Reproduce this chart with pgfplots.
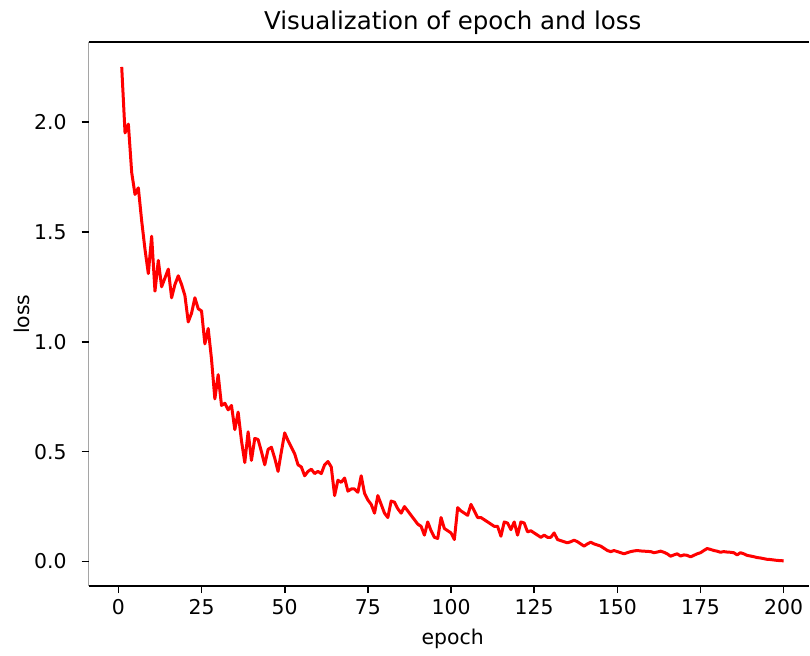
\documentclass[border=0pt]{standalone}
\usepackage{fontspec}
\setmainfont{DejaVu Sans}
\usepackage{pgfplots}
\pgfplotsset{compat=1.18}

\begin{document}
\begin{tikzpicture}
% the reference is cut off just before the right spine
\path (0,0) rectangle (405pt,326.5pt);
\begin{axis}[
    name=ax,
    at={(44.35pt,33.1pt)}, anchor=south west,
    scale only axis, width=360.65pt, height=272.25pt,
    xmin=-8.95, xmax=207.68,
    ymin=-0.1125, ymax=2.3625,
    xtick={0,25,...,200},
    ytick={0,0.5,...,2.0},
    yticklabel style={/pgf/number format/fixed, /pgf/number format/fixed zerofill, /pgf/number format/precision=1},
    /pgf/number format/assume math mode=true,
    tick align=outside,
    xtick pos=bottom, ytick pos=left,
    major tick length=3.5pt,
    tick style={line width=0.8pt, black},
    separate axis lines,
    axis line style={line width=0.8pt},
    y axis line style={draw=none},
    tick label style={font=\fontsize{10.2}{12}\selectfont},
    xticklabel style={anchor=base, yshift=-10.6pt},
    yticklabel style={anchor=east, inner sep=0pt, xshift=-7.35pt},
    title={Visualization of epoch and loss},
    every axis title/.style={at={(0.5052,1)}, anchor=base, yshift=6.4pt, font=\fontsize{12.25}{14}\selectfont},
    xlabel={epoch},
    every axis x label/.style={at={(0.5052,0)}, anchor=base, yshift=-29pt, font=\fontsize{10.2}{12}\selectfont},
]
\draw[line width=0.8pt] (rel axis cs:0,0) -- (rel axis cs:0,1);
% loss per epoch
\addplot[red, line width=1.5pt, line join=round] table {
1 2.25
2 1.95
3 1.99
4 1.77
5 1.67
6 1.70
7 1.55
8 1.42
9 1.31
10 1.48
11 1.23
12 1.37
13 1.25
14 1.29
15 1.33
16 1.20
17 1.26
18 1.30
19 1.26
20 1.21
21 1.09
22 1.13
23 1.20
24 1.15
25 1.14
26 0.99
27 1.06
28 0.92
29 0.74
30 0.85
31 0.71
32 0.72
33 0.69
34 0.71
35 0.60
36 0.68
37 0.55
38 0.45
39 0.59
40 0.46
41 0.56
42 0.555
43 0.50
44 0.44
45 0.51
46 0.52
47 0.47
48 0.41
49 0.50
50 0.585
51 0.55
52 0.52
53 0.49
54 0.44
55 0.43
56 0.39
57 0.41
58 0.42
59 0.40
60 0.41
61 0.40
62 0.44
63 0.455
64 0.43
65 0.30
66 0.37
67 0.36
68 0.38
69 0.32
70 0.33
71 0.33
72 0.315
73 0.39
74 0.31
75 0.28
76 0.26
77 0.22
78 0.30
79 0.26
80 0.22
81 0.20
82 0.275
83 0.27
84 0.24
85 0.22
86 0.25
87 0.23
88 0.21
89 0.19
90 0.17
91 0.16
92 0.12
93 0.18
94 0.14
95 0.11
96 0.105
97 0.20
98 0.15
99 0.14
100 0.13
101 0.10
102 0.245
103 0.23
104 0.22
105 0.21
106 0.26
107 0.23
108 0.20
109 0.20
110 0.19
111 0.18
112 0.17
113 0.16
114 0.16
115 0.115
116 0.18
117 0.175
118 0.145
119 0.18
120 0.12
121 0.18
122 0.175
123 0.135
124 0.14
125 0.13
126 0.12
127 0.11
128 0.12
129 0.11
130 0.11
131 0.13
132 0.10
133 0.095
134 0.09
135 0.085
136 0.09
137 0.097
138 0.09
139 0.08
140 0.07
141 0.08
142 0.088
143 0.08
144 0.075
145 0.07
146 0.06
147 0.05
148 0.045
149 0.05
150 0.045
151 0.04
152 0.035
153 0.04
154 0.045
155 0.048
156 0.05
157 0.048
158 0.047
159 0.046
160 0.045
161 0.04
162 0.043
163 0.047
164 0.042
165 0.035
166 0.024
167 0.03
168 0.035
169 0.025
170 0.03
171 0.028
172 0.021
173 0.028
174 0.035
175 0.04
176 0.05
177 0.059
178 0.055
179 0.05
180 0.047
181 0.042
182 0.045
183 0.043
184 0.042
185 0.04
186 0.03
187 0.04
188 0.035
189 0.028
190 0.025
191 0.022
192 0.018
193 0.016
194 0.013
195 0.01
196 0.009
197 0.007
198 0.005
199 0.004
200 0.003
};
\end{axis}
\node[rotate=90, anchor=base, font=\fontsize{10.2}{12}\selectfont] at ([xshift=-29.35pt]ax.west) {loss};
\end{tikzpicture}
\end{document}
